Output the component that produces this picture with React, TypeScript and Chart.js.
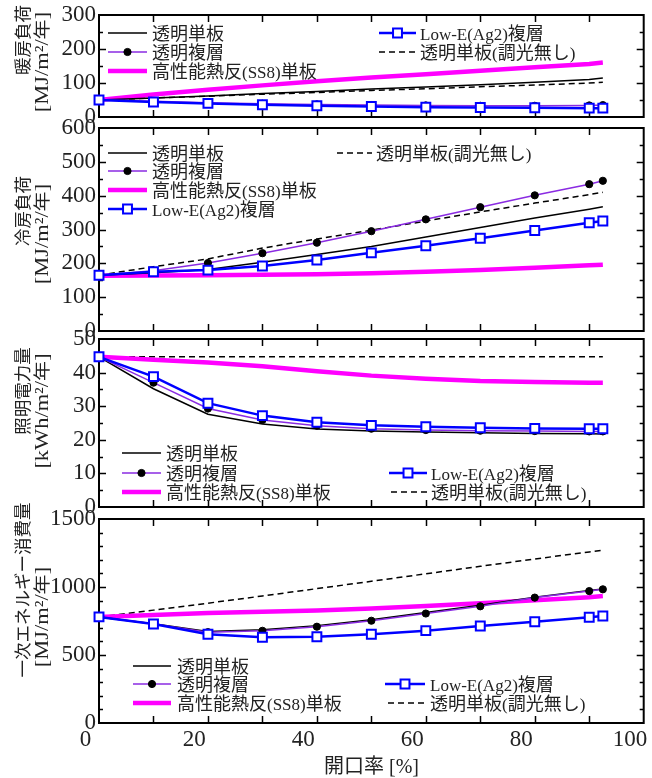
import React, { useEffect, useRef } from 'react';
import { Chart, registerables } from 'chart.js';

Chart.register(...registerables);

// ---------- data ----------
const openingRatio = [2.5, 12.5, 22.5, 32.5, 42.5, 52.5, 62.5, 72.5, 82.5, 92.5, 95];
const xTickValues = [0, 20, 40, 60, 80, 100];
const seriesLabels = ['透明単板', '透明複層', '高性能熱反(SS8)単板', 'Low-E(Ag2)複層', '透明単板(調光無し)'];

// 暖房負荷 [MJ/m2/年]
const heatingClearSingle = [50, 56, 62, 69, 75, 82, 88, 95, 102, 110, 115];
const heatingClearDouble = [50, 46, 42, 39, 37, 35, 34, 33, 33, 34, 35];
const heatingSS8 = [50, 66, 80, 93, 105, 116, 126, 136, 146, 156, 160];
const heatingLowE = [50, 44, 40, 36, 33, 31, 29, 28, 27, 26, 26];
const heatingNoDimming = [50, 56, 61, 67, 72, 78, 83, 89, 94, 100, 102];

// 冷房負荷 [MJ/m2/年]
const coolingClearSingle = [165, 172, 182, 203, 226, 250, 278, 306, 334, 360, 367];
const coolingClearDouble = [165, 178, 201, 230, 261, 295, 330, 366, 401, 434, 444];
const coolingSS8 = [163, 164, 165, 166, 168, 171, 175, 180, 187, 194, 196];
const coolingLowE = [165, 175, 180, 192, 210, 231, 252, 274, 297, 320, 325];
const coolingNoDimming = [165, 190, 213, 245, 272, 298, 325, 352, 378, 403, 410];

// 照明電力量 [kWh/m2/年]
const lightingClearSingle = [44.7, 35.2, 27.6, 24.7, 23.2, 22.6, 22.3, 22.1, 21.9, 21.8, 21.7];
const lightingClearDouble = [44.7, 37.0, 29.3, 25.9, 24.2, 23.3, 22.9, 22.7, 22.6, 22.5, 22.5];
const lightingSS8 = [44.7, 43.8, 43.0, 41.9, 40.4, 39.1, 38.2, 37.5, 37.2, 37.0, 37.0];
const lightingLowE = [44.7, 38.8, 30.9, 27.2, 25.2, 24.3, 23.9, 23.6, 23.4, 23.3, 23.3];
const lightingNoDimming = [44.7, 44.7, 44.7, 44.7, 44.7, 44.7, 44.7, 44.7, 44.7, 44.7, 44.7];

// 一次エネルギー消費量 [MJ/m2/年]
const primaryClearSingle = [780, 730, 672, 685, 716, 760, 812, 866, 925, 975, 985];
const primaryClearDouble = [780, 728, 668, 678, 708, 752, 805, 858, 922, 970, 983];
const primarySS8 = [780, 795, 808, 818, 828, 842, 860, 880, 902, 925, 933];
const primaryLowE = [780, 728, 652, 630, 634, 652, 679, 713, 745, 777, 787];
const primaryNoDimming = [780, 830, 881, 934, 988, 1042, 1097, 1152, 1206, 1258, 1270];

// ---------- layout / style ----------
const W = 652;
const H = 778;
const PLOT_LEFT = 99;
const PLOT_RIGHT = 644;
const X_MIN = 2.5;
const X_MAX = 102.5;
const X_MARK_STEP = 10;
const LATIN_FONT = "'Liberation Serif', 'DejaVu Serif', serif";
const CJK_FONT = "'Noto Sans CJK JP', 'Noto Sans', sans-serif";
const TEXT_COLOR = '#222';

type SeriesStyle = {
  color: string;
  width: number;
  dash: number[];
  point: false | 'circle' | 'rect';
  radius: number;
  fill: string;
  pointBorder: string;
  order: number;
};

const seriesStyles: SeriesStyle[] = [
  { color: '#000000', width: 1.5, dash: [], point: false, radius: 0, fill: '#000', pointBorder: '#000', order: 2 },
  { color: '#8a2be2', width: 1.5, dash: [], point: 'circle', radius: 3.6, fill: '#000', pointBorder: '#000', order: 1 },
  { color: '#ff00ff', width: 4.5, dash: [], point: false, radius: 0, fill: '#f0f', pointBorder: '#f0f', order: 3 },
  { color: '#0000ff', width: 2.5, dash: [], point: 'rect', radius: 6.3, fill: '#ffffff', pointBorder: '#0000ff', order: 0 },
  { color: '#000000', width: 1.5, dash: [6, 4], point: false, radius: 0, fill: '#000', pointBorder: '#000', order: 4 },
];

type LegendItem = { s: number; x0: number; x1: number; y: number; tx: number };

type Panel = {
  top: number;
  bottom: number;
  yMin: number;
  yMax: number;
  yMajor: number;
  yMinor: number;
  title: [string, string];
  titleCenters: [number, number];
  series: number[][];
  legend: LegendItem[];
  showX: boolean;
};

const panels: Panel[] = [
  {
    top: 15, bottom: 117, yMin: 0, yMax: 300, yMajor: 100, yMinor: 50,
    title: ['暖房負荷', '[MJ/m²/年]'],
    titleCenters: [40, 62],
    series: [heatingClearSingle, heatingClearDouble, heatingSS8, heatingLowE, heatingNoDimming],
    legend: [
      { s: 0, x0: 108, x1: 147, y: 33, tx: 152 },
      { s: 1, x0: 108, x1: 147, y: 52, tx: 152 },
      { s: 2, x0: 108, x1: 147, y: 71, tx: 152 },
      { s: 3, x0: 379, x1: 416, y: 33, tx: 420 },
      { s: 4, x0: 379, x1: 416, y: 52, tx: 420 },
    ],
    showX: false,
  },
  {
    top: 128, bottom: 331, yMin: 0, yMax: 600, yMajor: 100, yMinor: 50,
    title: ['冷房負荷', '[MJ/m²/年]'],
    titleCenters: [211, 234],
    series: [coolingClearSingle, coolingClearDouble, coolingSS8, coolingLowE, coolingNoDimming],
    legend: [
      { s: 0, x0: 108, x1: 147, y: 153, tx: 152 },
      { s: 1, x0: 108, x1: 147, y: 171, tx: 152 },
      { s: 2, x0: 108, x1: 147, y: 190, tx: 152 },
      { s: 3, x0: 108, x1: 147, y: 209, tx: 152 },
      { s: 4, x0: 337, x1: 372, y: 153, tx: 376 },
    ],
    showX: false,
  },
  {
    top: 339, bottom: 507, yMin: 0, yMax: 50, yMajor: 10, yMinor: 5,
    title: ['照明電力量', '[kWh/m²/年]'],
    titleCenters: [391, 411],
    series: [lightingClearSingle, lightingClearDouble, lightingSS8, lightingLowE, lightingNoDimming],
    legend: [
      { s: 0, x0: 122, x1: 161, y: 453, tx: 166 },
      { s: 1, x0: 122, x1: 161, y: 473, tx: 166 },
      { s: 2, x0: 122, x1: 161, y: 492, tx: 166 },
      { s: 3, x0: 389, x1: 427, y: 473, tx: 431 },
      { s: 4, x0: 391, x1: 427, y: 492, tx: 431 },
    ],
    showX: false,
  },
  {
    top: 519, bottom: 723, yMin: 0, yMax: 1500, yMajor: 500, yMinor: 100,
    title: ['一次エネルギー消費量', '[MJ/m²/年]'],
    titleCenters: [590, 617],
    series: [primaryClearSingle, primaryClearDouble, primarySS8, primaryLowE, primaryNoDimming],
    legend: [
      { s: 0, x0: 133, x1: 171, y: 666, tx: 177 },
      { s: 1, x0: 133, x1: 171, y: 684, tx: 177 },
      { s: 2, x0: 133, x1: 171, y: 703, tx: 177 },
      { s: 3, x0: 385, x1: 425, y: 684, tx: 430 },
      { s: 4, x0: 388, x1: 425, y: 703, tx: 430 },
    ],
    showX: true,
  },
];

// ---------- text helpers ----------
const isCjk = (ch: string) => /[\u3000-\u30ff\u3400-\u9fff\uff00-\uffef]/.test(ch);

function runsOf(text: string) {
  const out: { t: string; cjk: boolean }[] = [];
  for (const ch of text) {
    const c = isCjk(ch);
    if (out.length && out[out.length - 1].cjk === c) out[out.length - 1].t += ch;
    else out.push({ t: ch, cjk: c });
  }
  return out;
}

function drawMixed(
  ctx: CanvasRenderingContext2D,
  text: string,
  x: number,
  baseline: number,
  latinSize: number,
  cjkSize: number,
  align: 'left' | 'center',
  stretch = 1
) {
  const runs = runsOf(text);
  const fontOf = (cjk: boolean) => (cjk ? `${cjkSize}px ${CJK_FONT}` : `${latinSize}px ${LATIN_FONT}`);
  const widths = runs.map((r) => {
    ctx.font = fontOf(r.cjk);
    return ctx.measureText(r.t).width;
  });
  const total = widths.reduce((a, b) => a + b, 0) * stretch;
  ctx.save();
  ctx.translate(align === 'center' ? x - total / 2 : x, baseline);
  ctx.scale(stretch, 1);
  ctx.textAlign = 'left';
  ctx.textBaseline = 'alphabetic';
  let cx = 0;
  runs.forEach((r, i) => {
    ctx.font = fontOf(r.cjk);
    ctx.fillText(r.t, cx, 0);
    cx += widths[i];
  });
  ctx.restore();
}

function drawMarker(ctx: CanvasRenderingContext2D, st: SeriesStyle, x: number, y: number) {
  if (!st.point) return;
  ctx.save();
  ctx.setLineDash([]);
  ctx.fillStyle = st.fill;
  ctx.strokeStyle = st.pointBorder;
  if (st.point === 'rect') {
    const h = Math.SQRT1_2 * st.radius;
    ctx.lineWidth = 2;
    ctx.beginPath();
    ctx.rect(x - h, y - h, 2 * h, 2 * h);
    ctx.fill();
    ctx.stroke();
  } else {
    ctx.lineWidth = 1;
    ctx.beginPath();
    ctx.arc(x, y, st.radius, 0, Math.PI * 2);
    ctx.fill();
    ctx.stroke();
  }
  ctx.restore();
}

function drawFrame(chart: any, p: Panel) {
  const { ctx, chartArea: a, scales } = chart;
  const ys = scales.y;
  const xPix = (v: number) => a.left + ((v - X_MIN) / (X_MAX - X_MIN)) * (a.right - a.left);
  ctx.save();
  ctx.setLineDash([]);
  ctx.strokeStyle = '#000';
  ctx.lineWidth = 2;
  ctx.strokeRect(a.left, a.top, a.right - a.left, a.bottom - a.top);
  ctx.lineWidth = 1.5;
  ctx.beginPath();
  for (let v = X_MIN + X_MARK_STEP; v < X_MAX - 0.01; v += X_MARK_STEP) {
    const px = Math.round(xPix(v)) + 0.5;
    ctx.moveTo(px, a.top);
    ctx.lineTo(px, a.top + 7);
    ctx.moveTo(px, a.bottom);
    ctx.lineTo(px, a.bottom - 7);
  }
  for (let v = p.yMin + p.yMinor; v < p.yMax - 1e-6; v += p.yMinor) {
    const py = Math.round(ys.getPixelForValue(v)) + 0.5;
    const len = Math.abs(v % p.yMajor) < 1e-6 ? 7 : 4;
    ctx.moveTo(a.left, py);
    ctx.lineTo(a.left + len, py);
    ctx.moveTo(a.right, py);
    ctx.lineTo(a.right - len, py);
  }
  ctx.stroke();
  ctx.restore();
}

function makePanelChart(canvas: HTMLCanvasElement, p: Panel, idx: number) {
  const datasets = p.series.map((vals, s) => {
    const st = seriesStyles[s];
    return {
      label: seriesLabels[s],
      data: openingRatio.map((x, i) => ({ x, y: vals[i] })),
      borderColor: st.color,
      backgroundColor: st.color,
      borderWidth: st.width,
      borderDash: st.dash,
      pointStyle: st.point || 'circle',
      pointRadius: st.point ? st.radius : 0,
      pointHoverRadius: st.point ? st.radius : 0,
      pointBackgroundColor: st.fill,
      pointBorderColor: st.pointBorder,
      pointBorderWidth: st.point === 'rect' ? 2 : 1,
      tension: 0,
      fill: false,
      clip: false as any,
      order: st.order,
    };
  });

  const panelPlugin = {
    id: 'panelDecor' + idx,
    beforeDraw(chart: any) {
      drawFrame(chart, p);
    },
    afterDatasetsDraw(chart: any) {
      const { ctx } = chart;
      ctx.save();
      // legend
      for (const it of p.legend) {
        const st = seriesStyles[it.s];
        ctx.strokeStyle = st.color;
        ctx.lineWidth = st.width;
        ctx.setLineDash(st.dash);
        ctx.beginPath();
        ctx.moveTo(it.x0, it.y);
        ctx.lineTo(it.x1, it.y);
        ctx.stroke();
        ctx.setLineDash([]);
        drawMarker(ctx, st, (it.x0 + it.x1) / 2, it.y);
        ctx.fillStyle = TEXT_COLOR;
        drawMixed(ctx, seriesLabels[it.s], it.tx, it.y + 6.5, 17, 18, 'left');
      }
      // y title (two rotated lines)
      const lineX = [22, 41];
      p.title.forEach((t, i) => {
        ctx.save();
        ctx.translate(lineX[i], p.titleCenters[i]);
        ctx.rotate(-Math.PI / 2);
        ctx.fillStyle = TEXT_COLOR;
        if (i === 0) drawMixed(ctx, t, 0, 6.5, 18, 17.5, 'center');
        else drawMixed(ctx, t, 0, 6.5, 19, 17, 'center', 1.18);
        ctx.restore();
      });
      if (p.showX) {
        ctx.fillStyle = TEXT_COLOR;
        drawMixed(ctx, '開口率 [%]', (PLOT_LEFT + PLOT_RIGHT) / 2, 773, 20, 20, 'center');
      }
      ctx.restore();
    },
  };

  const tickFont = { family: LATIN_FONT, size: 23 };
  const xAxisHeight = 40;

  return new Chart(canvas, {
    type: 'line',
    data: { datasets: datasets as any },
    options: {
      animation: false,
      responsive: false,
      maintainAspectRatio: false,
      events: [],
      layout: {
        padding: {
          top: p.top,
          left: 0,
          right: W - PLOT_RIGHT,
          bottom: p.showX ? H - p.bottom - xAxisHeight : H - p.bottom,
        },
      },
      plugins: {
        legend: { display: false },
        tooltip: { enabled: false },
        title: { display: false },
      },
      scales: {
        x: {
          type: 'linear',
          min: X_MIN,
          max: X_MAX,
          display: p.showX,
          grid: { display: false, drawTicks: false },
          border: { display: false },
          ticks: {
            font: tickFont,
            color: TEXT_COLOR,
            padding: 3,
            autoSkip: false,
            maxRotation: 0,
            minRotation: 0,
            callback: (v: any) => String(v),
          },
          afterBuildTicks: (s: any) => {
            s.ticks = xTickValues.map((v) => ({ value: v }));
          },
          afterFit: (s: any) => {
            if (p.showX) s.height = xAxisHeight;
            s.paddingLeft = 0;
            s.paddingRight = 0;
          },
        },
        y: {
          type: 'linear',
          min: p.yMin,
          max: p.yMax,
          grid: { display: false, drawTicks: false },
          border: { display: false },
          ticks: {
            stepSize: p.yMajor,
            font: tickFont,
            color: TEXT_COLOR,
            padding: 3,
            autoSkip: false,
            callback: (v: any) => String(v),
          },
          afterFit: (s: any) => {
            s.width = PLOT_LEFT;
            s.paddingTop = 0;
            s.paddingBottom = 0;
          },
        },
      },
    } as any,
    plugins: [panelPlugin],
  });
}

function PanelCanvas({ panel, index }: { panel: Panel; index: number }) {
  const ref = useRef<HTMLCanvasElement | null>(null);
  useEffect(() => {
    if (!ref.current) return;
    const chart = makePanelChart(ref.current, panel, index);
    return () => chart.destroy();
  }, [panel, index]);
  return (
    <canvas
      ref={ref}
      width={W}
      height={H}
      style={{ position: 'absolute', left: 0, top: 0, width: W, height: H }}
    />
  );
}

export default function App() {
  return (
    <div style={{ position: 'fixed', left: 0, top: 0, width: W, height: H, background: '#fff' }}>
      {panels.map((p, i) => (
        <PanelCanvas key={i} panel={p} index={i} />
      ))}
    </div>
  );
}
